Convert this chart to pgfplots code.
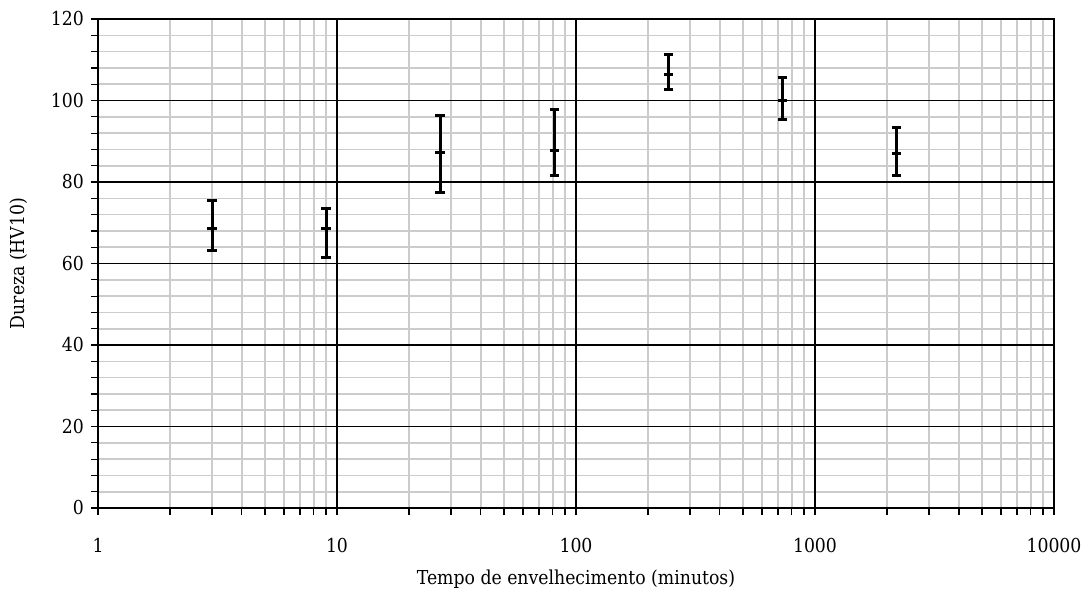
\documentclass[border=0pt]{standalone}
\usepackage{pgfplots}
\pgfplotsset{compat=1.18}
\usepackage{fontspec}
\setmainfont{DejaVu Serif Condensed}
\begin{document}
\begin{tikzpicture}
\begin{axis}[
  scale only axis,
  width=478pt, height=244.5pt,
  xmode=log, log basis x=10,
  xmin=1, xmax=10000, ymin=0, ymax=120,
  xtick={1,10000},
  xticklabels={1,10000},
  extra x ticks={10,100,1000},
  extra x tick labels={10,100,1000},
  extra x tick style={grid=major, major grid style={black, line width=0.6pt}},
  minor xtick={2,3,4,5,6,7,8,9,20,30,40,50,60,70,80,90,200,300,400,500,600,700,800,900,2000,3000,4000,5000,6000,7000,8000,9000},
  ytick={0,20,40,60,80,100,120},
  minor y tick num=4,
  grid=both,
  major grid style={black, line width=0.6pt},
  minor grid style={gray!40, line width=0.8pt},
  axis line style={black, line width=1pt},
  tick align=outside,
  major tick length=3.5pt, minor tick length=3.5pt,
  tick style={black, line width=0.6pt},
  xtick pos=bottom, ytick pos=left,
  /pgf/number format/assume math mode=true,
  tick label style={font=\fontsize{9.6}{12}\selectfont},
  label style={font=\fontsize{9.6}{12}\selectfont},
  xticklabel style={yshift=-8pt},
  xlabel={Tempo de envelhecimento (minutos)},
  ylabel={Dureza (HV10)},
  xlabel style={yshift=5pt},
  ylabel style={yshift=5pt},
  clip=false,
]
\addplot[black, only marks, mark=-, mark size=2.3pt, mark options={line width=1.5pt},
  error bars/.cd, y dir=both, y explicit,
  error bar style={line width=1.5pt},
  error mark options={rotate=90, mark size=2.3pt, line width=1.5pt}]
  coordinates {
    (3,68.6) += (0,6.8) -= (0,5.3)
    (9,68.6) += (0,4.9) -= (0,7.2)
    (27,87.3) += (0,9.1) -= (0,9.8)
    (81,87.7) += (0,10.0) -= (0,6.0)
    (243,106.4) += (0,4.9) -= (0,3.8)
    (729,100.1) += (0,5.5) -= (0,4.7)
    (2187,86.9) += (0,6.5) -= (0,5.2)
  };
\end{axis}
\pgfresetboundingbox
\path (current axis.south west) ++(-49pt,-49pt) coordinate (bbA);
\path (current axis.north east) ++(18pt,9.5pt) coordinate (bbB);
\path[use as bounding box] (bbA) rectangle (bbB);
\end{tikzpicture}
\end{document}
